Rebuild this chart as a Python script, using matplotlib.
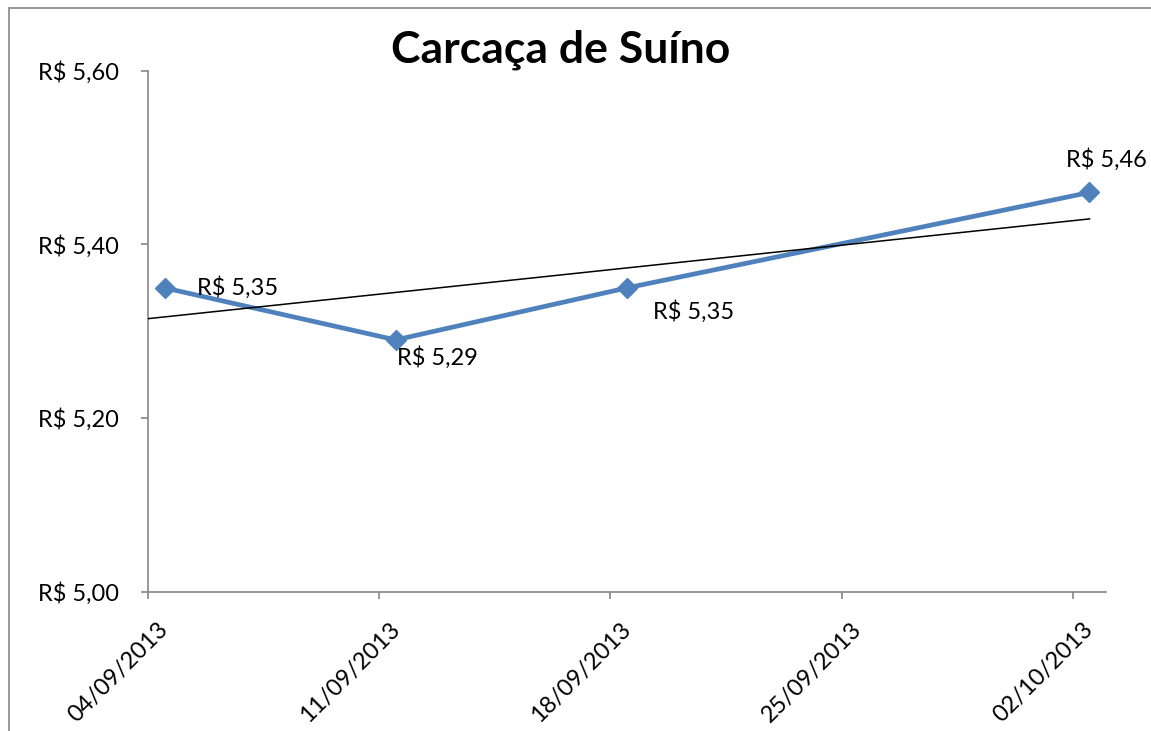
import matplotlib
matplotlib.use("Agg")
import matplotlib.pyplot as plt
import matplotlib.dates as mdates
import matplotlib.transforms as mtransforms
from matplotlib.patches import Rectangle
import numpy as np

plt.rcParams['font.family'] = ['Lato', 'DejaVu Sans']

# data
dates = ['2013-09-04', '2013-09-11', '2013-09-18', '2013-10-02']
prices = [5.35, 5.29, 5.35, 5.46]
tick_dates = ['2013-09-04', '2013-09-11', '2013-09-18', '2013-09-25', '2013-10-02']
tick_labels = ['04/09/2013', '11/09/2013', '18/09/2013', '25/09/2013', '02/10/2013']
y_ticks = [5.00, 5.20, 5.40, 5.60]
# linear trend line as drawn (start at axis edge, end at last point)
trend_dates = ['2013-09-04T00:00', '2013-10-02T12:00']
trend_values = [5.3145, 5.4295]

x = mdates.date2num(np.array(dates, dtype='datetime64[h]')) + 0.5  # points sit mid-day slot
xt = mdates.date2num(np.array(tick_dates, dtype='datetime64[h]'))
xtr = mdates.date2num(np.array(trend_dates, dtype='datetime64[h]'))

fig = plt.figure(figsize=(11.51, 7.31), dpi=100)
ax = fig.add_axes([148/1151, 1 - 591.5/731, 958/1151, 520.5/731])

grey = '#868686'
blue = '#4F81BD'

ax.plot(x, prices, color=blue, lw=3.4, marker='D', markersize=10, zorder=3)
ax.plot(xtr, trend_values, color='black', lw=1.1, zorder=4)

ax.set_xlim(xt[0], xt[0] + 29)
ax.set_ylim(5.0, 5.6)
ax.set_yticks(y_ticks)
ax.set_yticklabels(['R$ ' + f'{v:.2f}'.replace('.', ',') for v in y_ticks])
ax.set_xticks(xt)
ax.set_xticklabels([])

# rotated date labels, shifted like Excel does
offset = mtransforms.ScaledTranslation(17/100, -34/100, fig.dpi_scale_trans)
for xi, lab in zip(xt, tick_labels):
    ax.text(xi, 0, lab, transform=ax.get_xaxis_transform() + offset,
            rotation=45, ha='right', va='center', rotation_mode='anchor',
            fontsize=17)

for s in ['top', 'right']:
    ax.spines[s].set_visible(False)
for s in ['left', 'bottom']:
    ax.spines[s].set_color(grey)
    ax.spines[s].set_linewidth(1.2)
ax.tick_params(axis='both', colors=grey, labelcolor='black', labelsize=17,
               length=5, width=1.2, direction='out')
ax.tick_params(axis='y', pad=16)

# data labels, placed like the original
label_offsets = [(32, 0, 'left'), (1, -18, 'left'), (26, -24, 'left'), (17, 33, 'center')]
for xi, yi, (dx, dy, ha) in zip(x, prices, label_offsets):
    ax.annotate('R$ ' + f'{yi:.2f}'.replace('.', ','), (xi, yi),
                xytext=(dx, dy), textcoords='offset pixels',
                ha=ha, va='center', fontsize=17, zorder=5)

fig.text(561/1151, 1 - 50/731, 'Carcaça de Suíno', ha='center', va='center',
         fontsize=32, fontweight='bold')

fig.patches.append(Rectangle((9/1151, -0.1), 1.2, 1 - 8/731 + 0.1,
                             transform=fig.transFigure, fill=False,
                             edgecolor=grey, lw=1.2))

fig.savefig('out.png', dpi=100)
